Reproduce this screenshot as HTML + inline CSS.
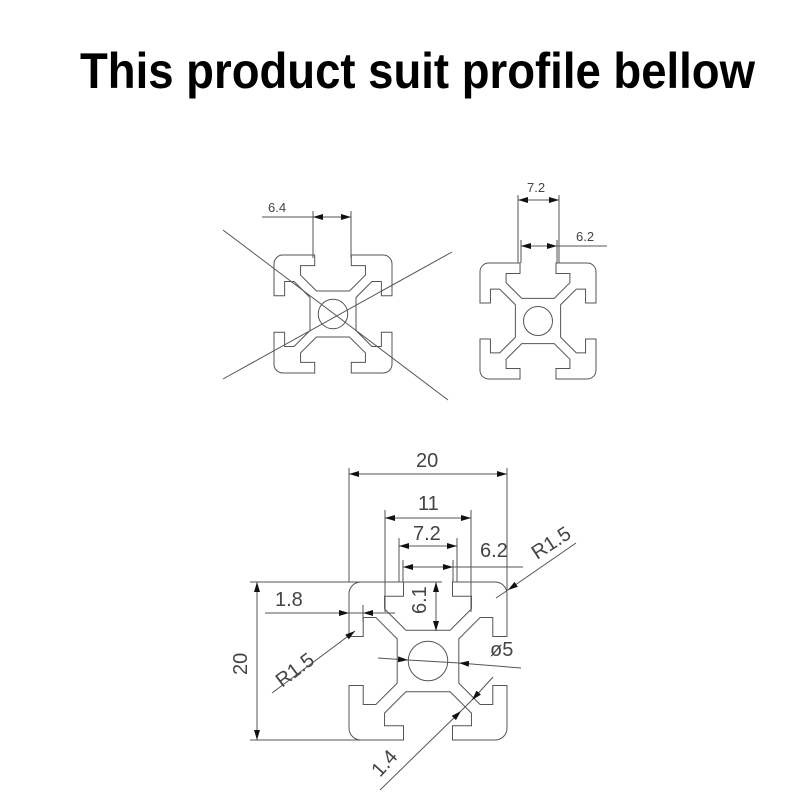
<!DOCTYPE html>
<html><head><meta charset="utf-8"><style>
html,body{margin:0;padding:0;background:#fff;}
svg{display:block;}
text{font-family:"Liberation Sans",sans-serif;fill:#444;}
</style></head><body>
<svg width="800" height="800" viewBox="0 0 800 800" xmlns="http://www.w3.org/2000/svg">
<defs>
<g id="prof">
<path fill="none" stroke="#555" stroke-width="1" vector-effect="non-scaling-stroke" d="M -8.5,-10 L -3.1,-10 L -3.1,-8.2 L -5.5,-8.2 L -5.5,-6.6 L -2.8,-3.9 L 2.8,-3.9 L 5.5,-6.6 L 5.5,-8.2 L 3.1,-8.2 L 3.1,-10 L 8.5,-10 A 1.5 1.5 0 0 1 10,-8.5
L 10,-3.1 L 8.2,-3.1 L 8.2,-5.5 L 6.6,-5.5 L 3.9,-2.8 L 3.9,2.8 L 6.6,5.5 L 8.2,5.5 L 8.2,3.1 L 10,3.1 L 10,8.5 A 1.5 1.5 0 0 1 8.5,10
L 3.1,10 L 3.1,8.2 L 5.5,8.2 L 5.5,6.6 L 2.8,3.9 L -2.8,3.9 L -5.5,6.6 L -5.5,8.2 L -3.1,8.2 L -3.1,10 L -8.5,10 A 1.5 1.5 0 0 1 -10,8.5
L -10,3.1 L -8.2,3.1 L -8.2,5.5 L -6.6,5.5 L -3.9,2.8 L -3.9,-2.8 L -6.6,-5.5 L -8.2,-5.5 L -8.2,-3.1 L -10,-3.1 L -10,-8.5 A 1.5 1.5 0 0 1 -8.5,-10 Z"/>
<circle cx="0" cy="0" r="2.5" fill="none" stroke="#555" stroke-width="1" vector-effect="non-scaling-stroke"/>
</g>
<marker id="ar" viewBox="0 0 10 6" refX="10" refY="3" markerWidth="10" markerHeight="6" markerUnits="userSpaceOnUse" orient="auto"><path d="M0,0 L10,3 L0,6 Z" fill="#111"/></marker>
<marker id="al" viewBox="0 0 10 6" refX="0" refY="3" markerWidth="10" markerHeight="6" markerUnits="userSpaceOnUse" orient="auto"><path d="M10,0 L0,3 L10,6 Z" fill="#111"/></marker>
</defs>

<text x="80" y="88" font-size="50" font-weight="bold" style="fill:#000" textLength="675" lengthAdjust="spacingAndGlyphs">This product suit profile bellow</text>

<!-- top-left crossed profile -->
<use href="#prof" transform="translate(333,314) scale(5.9)"/>
<g stroke="#555" stroke-width="1" fill="none">
<line x1="223" y1="230" x2="448" y2="400"/>
<line x1="223" y1="379" x2="452" y2="252"/>
<line x1="313" y1="211" x2="313" y2="258"/>
<line x1="351" y1="211" x2="351" y2="258"/>
<line x1="262" y1="217" x2="313" y2="217"/>
<line x1="313" y1="217" x2="351" y2="217" marker-start="url(#al)" marker-end="url(#ar)"/>
</g>
<text x="268" y="212" font-size="13">6.4</text>

<!-- top-right profile -->
<use href="#prof" transform="translate(538,321) scale(5.8)"/>
<g stroke="#555" stroke-width="1" fill="none">
<line x1="518" y1="195" x2="518" y2="263"/>
<line x1="559" y1="195" x2="559" y2="263"/>
<line x1="521" y1="240" x2="521" y2="263"/>
<line x1="557" y1="240" x2="557" y2="263"/>
<line x1="518" y1="200" x2="559" y2="200" marker-start="url(#al)" marker-end="url(#ar)"/>
<line x1="521" y1="246" x2="557" y2="246" marker-start="url(#al)" marker-end="url(#ar)"/>
<line x1="557" y1="246" x2="607" y2="246"/>
</g>
<text x="527" y="192" font-size="13">7.2</text>
<text x="576" y="241" font-size="13">6.2</text>

<!-- bottom main profile -->
<use href="#prof" transform="translate(428,661) scale(7.9)"/>
<g stroke="#555" stroke-width="1" fill="none">
<!-- 20 top -->
<line x1="349" y1="468" x2="349" y2="582"/>
<line x1="507" y1="468" x2="507" y2="590"/>
<line x1="349" y1="474" x2="507" y2="474" marker-start="url(#al)" marker-end="url(#ar)"/>
<!-- 11 -->
<line x1="385" y1="510" x2="385" y2="612"/>
<line x1="471" y1="510" x2="471" y2="612"/>
<line x1="385" y1="518" x2="471" y2="518" marker-start="url(#al)" marker-end="url(#ar)"/>
<!-- 7.2 -->
<line x1="399" y1="538" x2="399" y2="582"/>
<line x1="457" y1="538" x2="457" y2="582"/>
<line x1="399" y1="546" x2="457" y2="546" marker-start="url(#al)" marker-end="url(#ar)"/>
<!-- 6.2 -->
<line x1="403" y1="560" x2="403" y2="582"/>
<line x1="453" y1="560" x2="453" y2="582"/>
<line x1="403" y1="567" x2="453" y2="567" marker-start="url(#al)" marker-end="url(#ar)"/>
<line x1="453" y1="567" x2="523" y2="567"/>
<!-- R1.5 top right -->
<line x1="576" y1="543" x2="508" y2="590" marker-end="url(#ar)"/>
<line x1="508" y1="590" x2="496" y2="598"/>
<!-- left 20 -->
<line x1="250" y1="582" x2="442" y2="582"/>
<line x1="250" y1="740" x2="365" y2="740"/>
<line x1="257" y1="582" x2="257" y2="740" marker-start="url(#al)" marker-end="url(#ar)"/>
<!-- 1.8 -->
<line x1="265" y1="613" x2="349" y2="613" marker-end="url(#ar)"/>
<line x1="363" y1="613" x2="395" y2="613" marker-start="url(#al)"/>
<line x1="349" y1="613" x2="363" y2="613"/>
<line x1="363" y1="605" x2="363" y2="622"/>
<!-- 6.1 -->
<line x1="436" y1="582" x2="436" y2="631" marker-start="url(#al)" marker-end="url(#ar)"/>
<!-- R1.5 left -->
<line x1="272" y1="693" x2="355" y2="631" marker-end="url(#ar)"/>
<!-- ø5 -->
<line x1="378" y1="658" x2="408" y2="660" marker-end="url(#ar)"/>
<line x1="459" y1="663" x2="521" y2="668" marker-start="url(#al)"/>
<line x1="408" y1="660" x2="459" y2="663"/>
<!-- 1.4 -->
<line x1="380" y1="790" x2="461" y2="711" marker-end="url(#ar)"/>
<line x1="461" y1="711" x2="472" y2="700"/>
<line x1="472" y1="700" x2="493" y2="677" marker-start="url(#al)"/>
</g>
<g font-size="20">
<text x="416" y="467">20</text>
<text x="418" y="510">11</text>
<text x="413" y="540">7.2</text>
<text x="480" y="557">6.2</text>
<text x="275" y="606">1.8</text>
<text x="490" y="656">ø5</text>
<text transform="translate(247,675) rotate(-90)">20</text>
<text transform="translate(426,614) rotate(-90)">6.1</text>
<text transform="translate(537,560) rotate(-33)">R1.5</text>
<text transform="translate(282,688) rotate(-37)">R1.5</text>
<text transform="translate(380,778) rotate(-48)">1.4</text>
</g>
</svg>
</body></html>
